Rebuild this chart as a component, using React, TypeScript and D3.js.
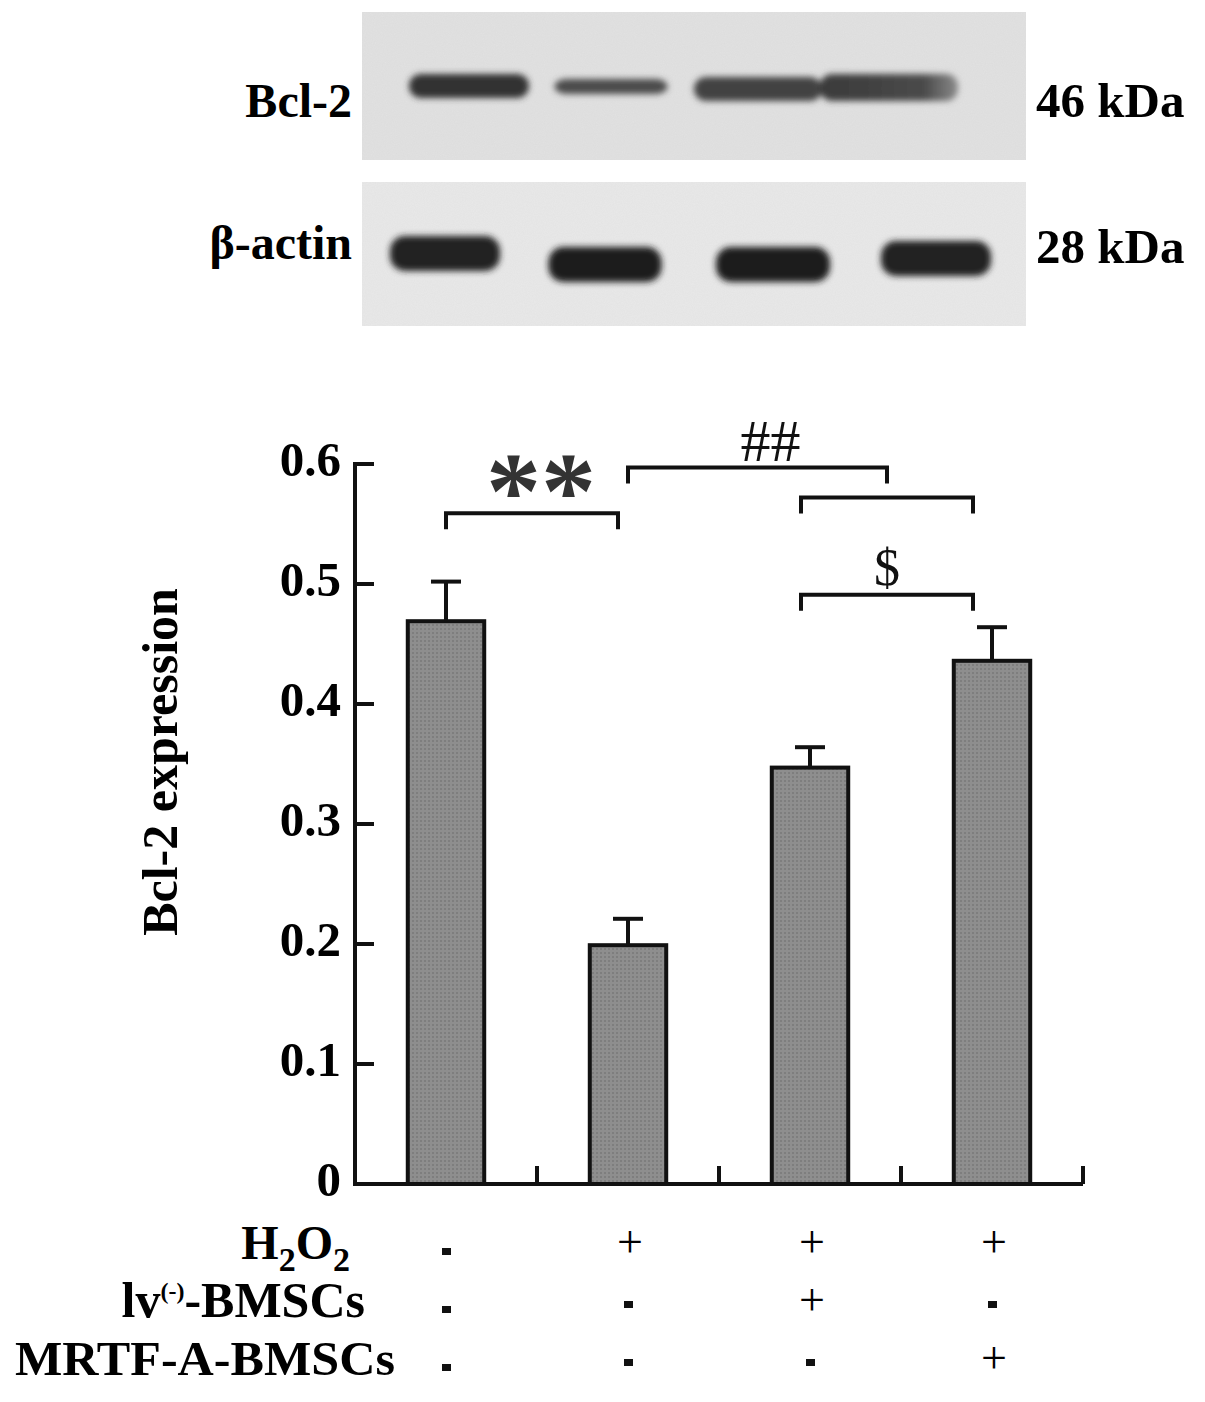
import React from 'react';
import * as d3 from 'd3';

const groups = ['g1', 'g2', 'g3', 'g4'];
const means = [0.469, 0.199, 0.347, 0.436];
const errors = [0.033, 0.022, 0.017, 0.028];
const yTicks = [0, 0.1, 0.2, 0.3, 0.4, 0.5, 0.6];

const rowLabels = ['H2O2', 'lv(-)-BMSCs', 'MRTF-A-BMSCs'];
const h2o2Signs = ['-', '+', '+', '+'];
const lvSigns = ['-', '-', '+', '-'];
const mrtfSigns = ['-', '-', '-', '+'];

// significance brackets: from group, to group, height (in data units), label
const bracketFrom = ['g1', 'g2', 'g3', 'g3'];
const bracketTo = ['g2', 'g34', 'g4', 'g4'];
const bracketLevel = [0.559, 0.597, 0.572, 0.491];
const bracketLabel = ['**', '##', '', '$'];

// western blot lanes: band darkness
const bcl2Intensity = [0.88, 0.78, 0.82, 0.74];
const actinIntensity = [0.95, 0.97, 0.97, 0.95];

const W = 1205;
const H = 1402;
const FONT = '"Liberation Serif", "Times New Roman", serif';

export default function App() {
  const margin = { left: 355, right: 1083, top: 464, bottom: 1184 };
  const x = d3.scaleBand<string>().domain(groups).range([margin.left, margin.right]).paddingInner(0.58).paddingOuter(0.29);
  const y = d3.scaleLinear().domain([0, 0.6]).range([margin.bottom, margin.top]);
  const cx = (g: string) => {
    if (g === 'g34') return (x('g3')! + x('g4')! + x.bandwidth()) / 2 - 14;
    return x(g)! + x.bandwidth() / 2;
  };
  const step = x.step();
  const boundaries = groups.map((g, i) => margin.left + step * (i + 1));

  // blot geometry
  const blotX = d3.scaleBand<string>().domain(groups).range([362, 1026]);
  const topShift = [24, 0, -19, -54];
  const topWidth = [120, 113, 128, 138];
  const topY = [74, 79, 77, 74];
  const topH = [24, 15, 24, 27];
  const botShift = [0, -6, -4, -7];
  const botWidth = [110, 113, 114, 110];
  const botY = [236, 247, 247, 241];

  const signRows = [h2o2Signs, lvSigns, mrtfSigns];
  const rowY = [1259, 1317, 1375];

  const bracketX = (i: number) => {
    const offsets = [[0, -10], [0, 0], [-9, -19], [-9, -19]];
    return [cx(bracketFrom[i]) + offsets[i][0], cx(bracketTo[i]) + offsets[i][1]];
  };

  return (
    <div style={{ position: 'absolute', left: 0, top: 0, width: W, height: H, background: '#fff' }}>
      <svg width={W} height={H} style={{ display: 'block', fontFamily: FONT }}>
        <defs>
          <filter id="blur" x="-20%" y="-50%" width="140%" height="200%">
            <feGaussianBlur stdDeviation="3" />
          </filter>
          <filter id="noise" x="0" y="0" width="100%" height="100%">
            <feTurbulence type="fractalNoise" baseFrequency="0.9" numOctaves="2" seed="3" result="t" />
            <feColorMatrix type="matrix" values="0 0 0 0 0.5  0 0 0 0 0.5  0 0 0 0 0.5  0 0 0 0.12 0" />
            <feComposite in2="SourceGraphic" operator="in" />
            <feBlend in2="SourceGraphic" mode="multiply" />
          </filter>
          <linearGradient id="lane4" x1="0" x2="1" y1="0" y2="0">
            <stop offset="0" stopColor="#3a3a3a" />
            <stop offset="0.75" stopColor="#4a4a4a" />
            <stop offset="1" stopColor="#8a8a8a" />
          </linearGradient>
          <pattern id="dots" width="4" height="4" patternUnits="userSpaceOnUse">
            <rect width="4" height="4" fill="#8e8e8e" />
            <rect width="2" height="2" fill="#7e7e7e" />
          </pattern>
        </defs>

        {/* Western blot panels */}
        <rect x={362} y={12} width={664} height={148} fill="#e2e2e2" filter="url(#noise)" />
        <rect x={362} y={182} width={664} height={144} fill="#e9e9e9" filter="url(#noise)" />
        <g filter="url(#blur)">
          {groups.map((g, i) => {
            const c = blotX(g)! + blotX.bandwidth() / 2 + topShift[i];
            const v = Math.round(255 * (1 - bcl2Intensity[i]) + 20);
            return (
              <rect key={g} x={c - topWidth[i] / 2} y={topY[i]} width={topWidth[i]} height={topH[i]}
                rx={12} fill={i === 3 ? 'url(#lane4)' : `rgb(${v},${v},${v})`} />
            );
          })}
          {groups.map((g, i) => {
            const c = blotX(g)! + blotX.bandwidth() / 2 + botShift[i];
            const v = Math.round(255 * (1 - actinIntensity[i]) + 20);
            return (
              <rect key={g} x={c - botWidth[i] / 2} y={botY[i]} width={botWidth[i]} height={35}
                rx={15} fill={`rgb(${v},${v},${v})`} />
            );
          })}
        </g>
        <text x={352} y={117} textAnchor="end" fontSize={48} fontWeight="bold">Bcl-2</text>
        <text x={352} y={259} textAnchor="end" fontSize={48} fontWeight="bold">β-actin</text>
        <text x={1036} y={117} fontSize={49} fontWeight="bold">46 kDa</text>
        <text x={1036} y={263} fontSize={49} fontWeight="bold">28 kDa</text>

        {/* Bars */}
        {groups.map((g, i) => (
          <rect key={g} x={x(g)} y={y(means[i])} width={x.bandwidth()} height={y(0) - y(means[i])}
            fill="url(#dots)" stroke="#111" strokeWidth={4} />
        ))}
        {groups.map((g, i) => (
          <g key={g} stroke="#111" strokeWidth={4}>
            <line x1={cx(g)} x2={cx(g)} y1={y(means[i])} y2={y(means[i] + errors[i])} />
            <line x1={cx(g) - 15} x2={cx(g) + 15} y1={y(means[i] + errors[i])} y2={y(means[i] + errors[i])} />
          </g>
        ))}

        {/* Axes */}
        <g stroke="#111" strokeWidth={4} fill="none">
          <line x1={margin.left} x2={margin.left} y1={y(0.6) - 2} y2={y(0) + 2} />
          <line x1={margin.left - 2} x2={margin.right} y1={y(0)} y2={y(0)} />
          {yTicks.map(t => (
            <line key={t} x1={margin.left} x2={margin.left + 19} y1={y(t)} y2={y(t)} />
          ))}
          {boundaries.map(b => (
            <line key={b} x1={b} x2={b} y1={y(0)} y2={y(0) - 18} />
          ))}
        </g>
        {yTicks.map(t => (
          <text key={t} x={341} y={y(t) + 12} textAnchor="end" fontSize={49} fontWeight="bold">
            {t === 0 ? '0' : d3.format('.1f')(t)}
          </text>
        ))}
        <text transform={`translate(177, ${762}) rotate(-90)`} textAnchor="middle" fontSize={50} fontWeight="bold">
          Bcl-2 expression
        </text>

        {/* Significance brackets */}
        {bracketLevel.map((lv, i) => {
          const [x1, x2] = bracketX(i);
          const yy = y(lv);
          return (
            <g key={i}>
              <path d={`M${x1},${yy + 16}V${yy}H${x2}V${yy + 16}`} fill="none" stroke="#111" strokeWidth={4} />
              {bracketLabel[i] && (
                <text x={(x1 + x2) / 2 + (i === 1 ? 13 : i === 0 ? 9 : 0)}
                  y={i === 0 ? yy + 15 : i === 1 ? yy - 7 : yy - 10}
                  textAnchor="middle"
                  fontSize={i === 0 ? 110 : i === 1 ? 60 : 52}
                  fontWeight={i === 0 ? 'bold' : 'normal'}
                  fill={i === 0 ? '#333' : '#111'}>
                  {bracketLabel[i]}
                </text>
              )}
            </g>
          );
        })}

        {/* Treatment table */}
        <text x={350} y={rowY[0]} textAnchor="end" fontSize={48} fontWeight="bold">
          H<tspan dy={12} fontSize={34}>2</tspan><tspan dy={-12}>O</tspan><tspan dy={12} fontSize={34}>2</tspan>
        </text>
        <text x={365} y={rowY[1]} textAnchor="end" fontSize={50} fontWeight="bold">
          lv<tspan dy={-18} fontSize={24}>(-)</tspan><tspan dy={18}>-BMSCs</tspan>
        </text>
        <text x={395} y={rowY[2]} textAnchor="end" fontSize={48} fontWeight="bold" textLength={380} lengthAdjust="spacingAndGlyphs">
          {rowLabels[2]}
        </text>
        {signRows.map((row, r) => row.map((s, i) => (
          s === '+' ? (
            <text key={`${r}-${i}`} x={cx(groups[i]) + 2} y={rowY[r] - 2} textAnchor="middle" fontSize={46}>+</text>
          ) : (
            <rect key={`${r}-${i}`} x={cx(groups[i]) - 4} y={rowY[r] - 16 + (i === 0 ? 5 : 0)} width={9} height={7} fill="#111" />
          )
        )))}
      </svg>
    </div>
  );
}
